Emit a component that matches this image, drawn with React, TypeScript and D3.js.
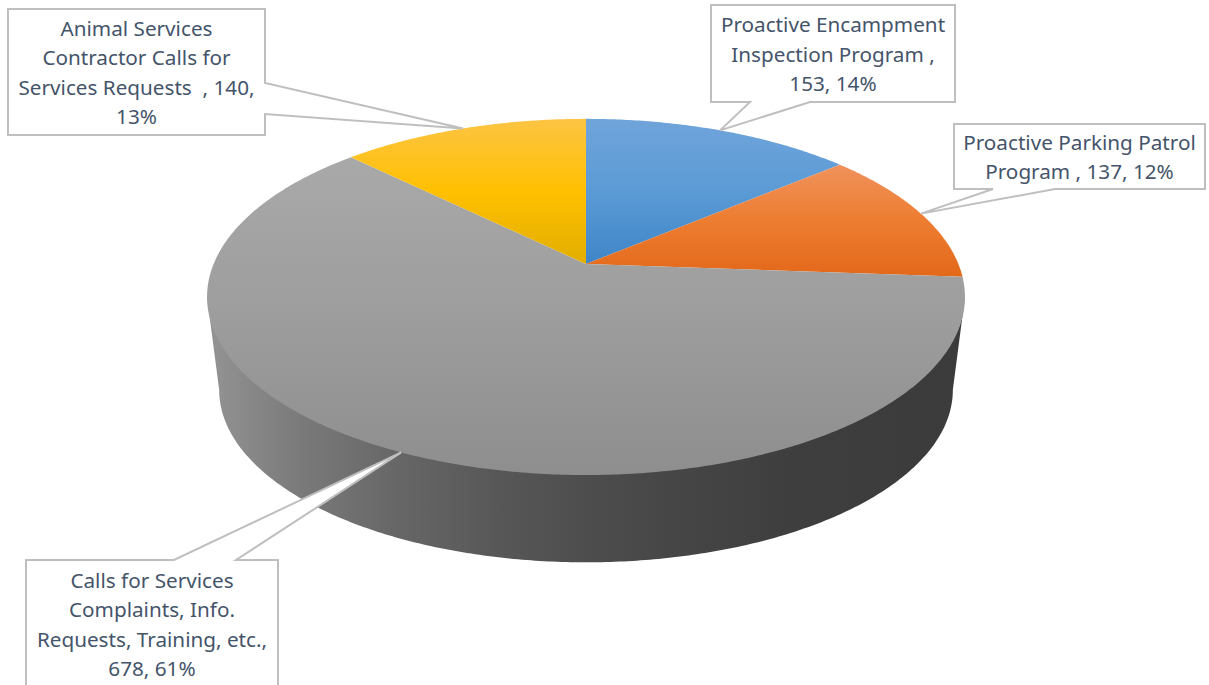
import React from "react";
import * as d3 from "d3";

// Slices in clockwise order, starting at twelve o'clock
const programs = [
  "Proactive Encampment Inspection Program",
  "Proactive Parking Patrol Program",
  "Calls for Services Complaints, Info. Requests, Training, etc.",
  "Animal Services Contractor Calls for Services Requests",
];
const counts = [153, 137, 678, 140];
const calloutLines = [
  ["Proactive Encampment", "Inspection Program ,", "153, 14%"],
  ["Proactive Parking Patrol", "Program , 137, 12%"],
  ["Calls for Services", "Complaints, Info.", "Requests, Training, etc.,", "678, 61%"],
  ["Animal Services", "Contractor Calls for", "Services Requests  , 140,", "13%"],
];
const topShades = [
  ["#70a4db", "#5b9bd5", "#3f85c8"],
  ["#f0925c", "#ed7d31", "#e3681a"],
  ["#a9a9a9", "#9d9d9d", "#8e8e8e"],
  ["#fdc444", "#ffc000", "#e2ae00"],
];
// Box, pointer foot along one box edge
const callouts = [
  { x: 711, y: 5, w: 244, h: 97, edge: "bottom", foot: [750, 810] },
  { x: 954, y: 124, w: 251, h: 65, edge: "bottom", foot: [993, 1055] },
  { x: 26, y: 560, w: 252, h: 140, edge: "top", foot: [174, 236] },
  { x: 8, y: 9, w: 257, h: 126, edge: "right", foot: [83, 114] },
];

const sideStops: [number, string][] = [
  [207, "#949494"],
  [300, "#7a7a7a"],
  [400, "#666666"],
  [500, "#575757"],
  [600, "#4c4c4c"],
  [700, "#444444"],
  [800, "#3e3e3e"],
  [965, "#3b3b3b"],
];

const W = 1209;
const H = 685;
const CX = 586;
const tilt = 0.185;
const TOP = { a: 372.4, b: 172, cy: 264 };
const BOTTOM = { a: 360.5, b: 166.5, cy: 358 };

type Disc = { a: number; b: number; cy: number };

// Perspective view of a point on the disc rim; radius 0 gives the pie's centre
function project(d: Disc, angle: number, r = 1): [number, number] {
  const u = r * Math.sin(angle);
  const v = -r * Math.cos(angle);
  const w = 1 - tilt * v;
  return [CX + (d.a * u) / w, d.cy + (d.b * v) / w];
}

const line = d3.line();

function rimPoints(d: Disc, from: number, to: number): [number, number][] {
  const n = Math.max(2, Math.ceil(Math.abs(to - from) / 0.01));
  return d3.range(n + 1).map((i) => project(d, from + ((to - from) * i) / n));
}

export default function App() {
  const arcs = d3.pie<number>().sort(null)(counts);
  const total = d3.sum(counts);

  // Angles where the rim is widest: the silhouette of the disc's wall runs between them
  const silhouette = Math.acos(-tilt);
  const wall =
    line([
      ...rimPoints(BOTTOM, silhouette, 2 * Math.PI - silhouette),
      project(TOP, 2 * Math.PI - silhouette),
      project(TOP, silhouette),
    ]) + "Z";

  const sideScale = d3.scaleLinear().domain([207, 965]).range([0, 100]);

  return (
    <svg
      width={W}
      height={H}
      viewBox={`0 0 ${W} ${H}`}
      role="img"
      aria-label={`Service calls by program, total ${total}`}
      style={{ position: "absolute", left: 0, top: 0, display: "block", background: "#fff" }}
    >
      <defs>
        <linearGradient id="wall" gradientUnits="userSpaceOnUse" x1={207} x2={965} y1={0} y2={0}>
          {sideStops.map(([x, c]) => (
            <stop key={x} offset={`${sideScale(x)}%`} stopColor={c} />
          ))}
        </linearGradient>
        {arcs.map((arc, i) => {
          const pts = [project(TOP, 0, 0), ...rimPoints(TOP, arc.startAngle, arc.endAngle)];
          const [y0, y1] = d3.extent(pts, (p) => p[1]) as [number, number];
          return (
            <linearGradient
              key={i}
              id={`top-${i}`}
              gradientUnits="userSpaceOnUse"
              x1={0}
              x2={0}
              y1={y0}
              y2={y1}
            >
              <stop offset="0%" stopColor={topShades[i][0]} />
              <stop offset="50%" stopColor={topShades[i][1]} />
              <stop offset="100%" stopColor={topShades[i][2]} />
            </linearGradient>
          );
        })}
      </defs>

      <path d={wall} fill="url(#wall)" />

      {arcs.map((arc, i) => (
        <path
          key={i}
          d={line([project(TOP, 0, 0), ...rimPoints(TOP, arc.startAngle, arc.endAngle)]) + "Z"}
          fill={`url(#top-${i})`}
        >
          <title>{`${programs[i]}: ${counts[i]}`}</title>
        </path>
      ))}

      {arcs.map((arc, i) => {
        const c = callouts[i];
        const tip = project(TOP, (arc.startAngle + arc.endAngle) / 2);
        const r = c.x + c.w;
        const b = c.y + c.h;
        const [f0, f1] = c.foot;
        let pts: [number, number][];
        if (c.edge === "bottom") {
          pts = [[c.x, c.y], [r, c.y], [r, b], [f1, b], tip, [f0, b], [c.x, b]];
        } else if (c.edge === "top") {
          pts = [[c.x, c.y], [f0, c.y], tip, [f1, c.y], [r, c.y], [r, b], [c.x, b]];
        } else {
          pts = [[c.x, c.y], [r, c.y], [r, f0], tip, [r, f1], [r, b], [c.x, b]];
        }
        const lines = calloutLines[i];
        const step = 29.4;
        const first = c.y + c.h / 2 - ((lines.length - 1) * step) / 2 + 8;
        const start = c.edge === "top" ? c.y + 28 : first;
        return (
          <g key={i}>
            <path d={line(pts) + "Z"} fill="#ffffff" stroke="#bfbfbf" strokeWidth={2} />
            <text
              textAnchor="middle"
              fontFamily="'Noto Sans', sans-serif"
              fontSize={20.7}
              fill="#44546a"
            >
              {lines.map((t, j) => (
                <tspan key={j} x={c.x + c.w / 2} y={start + j * step} xmlSpace="preserve">
                  {t}
                </tspan>
              ))}
            </text>
          </g>
        );
      })}
    </svg>
  );
}
